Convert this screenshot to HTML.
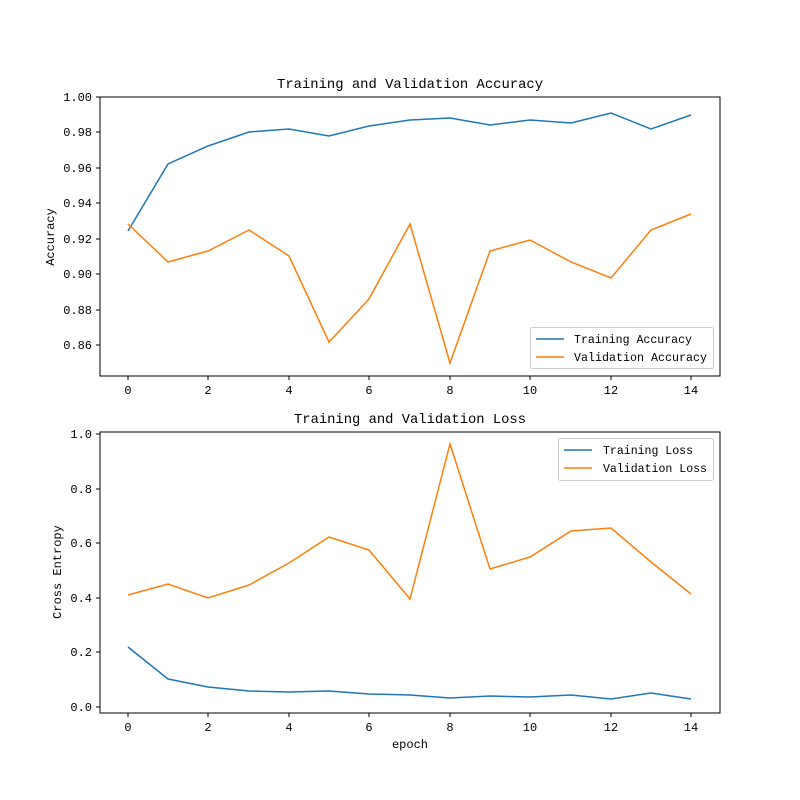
<!DOCTYPE html>
<html><head><meta charset="utf-8"><style>body{margin:0;background:#fff}svg{display:block}text{font-family:"Liberation Mono","WenQuanYi Zen Hei",monospace;fill:#000}</style></head>
<body>
<svg width="800" height="800" viewBox="0 0 800 800" xmlns="http://www.w3.org/2000/svg">
<rect width="800" height="800" fill="#fff"/>
<!-- TOP -->
<text x="410" y="88" font-size="14" text-anchor="middle" textLength="266" lengthAdjust="spacingAndGlyphs">Training and Validation Accuracy</text>
<g stroke="#000" stroke-width="1">
<line x1="128" y1="376" x2="128" y2="380"/><line x1="208" y1="376" x2="208" y2="380"/><line x1="289" y1="376" x2="289" y2="380"/><line x1="369" y1="376" x2="369" y2="380"/><line x1="450" y1="376" x2="450" y2="380"/><line x1="530" y1="376" x2="530" y2="380"/><line x1="611" y1="376" x2="611" y2="380"/><line x1="691" y1="376" x2="691" y2="380"/>
<line x1="96" y1="97" x2="100" y2="97"/><line x1="96" y1="132" x2="100" y2="132"/><line x1="96" y1="168" x2="100" y2="168"/><line x1="96" y1="203" x2="100" y2="203"/><line x1="96" y1="239" x2="100" y2="239"/><line x1="96" y1="274" x2="100" y2="274"/><line x1="96" y1="310" x2="100" y2="310"/><line x1="96" y1="345" x2="100" y2="345"/>
</g>
<g font-size="12" text-anchor="middle">
<text x="128" y="394">0</text><text x="208" y="394">2</text><text x="289" y="394">4</text><text x="369" y="394">6</text><text x="450" y="394">8</text><text x="530" y="394">10</text><text x="611" y="394">12</text><text x="691" y="394">14</text>
</g>
<g font-size="12" text-anchor="end">
<text x="92" y="101">1.00</text><text x="92" y="136">0.98</text><text x="92" y="172">0.96</text><text x="92" y="207">0.94</text><text x="92" y="243">0.92</text><text x="92" y="278">0.90</text><text x="92" y="314">0.88</text><text x="92" y="349">0.86</text>
</g>
<text transform="translate(54,237) rotate(-90)" font-size="12" text-anchor="middle">Accuracy</text>
<polyline fill="none" stroke="#1f77b4" stroke-width="1.5" points="128,231 168,164 208,146 249,132 289,129 329,136 369,126 410,120 450,118 490,125 530,120 571,123 611,113 651,129 691,115"/>
<polyline fill="none" stroke="#ff7f0e" stroke-width="1.5" points="128,224 168,262 208,251 249,230 289,256 329,342 369,299 410,224 450,363 490,251 530,240 571,262 611,278 651,230 691,214"/>
<rect x="100" y="97" width="620" height="279" fill="none" stroke="#000"/>
<rect x="530.5" y="327.5" width="183" height="41" rx="2" fill="#fff" fill-opacity="0.8" stroke="#ccc"/>
<line x1="536" y1="339" x2="564" y2="339" stroke="#1f77b4" stroke-width="1.5"/>
<line x1="536" y1="357" x2="564" y2="357" stroke="#ff7f0e" stroke-width="1.5"/>
<text x="574" y="343" font-size="12" textLength="118" lengthAdjust="spacingAndGlyphs">Training Accuracy</text>
<text x="574" y="361" font-size="12" textLength="133" lengthAdjust="spacingAndGlyphs">Validation Accuracy</text>
<!-- BOTTOM -->
<text x="410" y="423" font-size="14" text-anchor="middle" textLength="232" lengthAdjust="spacingAndGlyphs">Training and Validation Loss</text>
<g stroke="#000" stroke-width="1">
<line x1="128" y1="713" x2="128" y2="717"/><line x1="208" y1="713" x2="208" y2="717"/><line x1="289" y1="713" x2="289" y2="717"/><line x1="369" y1="713" x2="369" y2="717"/><line x1="450" y1="713" x2="450" y2="717"/><line x1="530" y1="713" x2="530" y2="717"/><line x1="611" y1="713" x2="611" y2="717"/><line x1="691" y1="713" x2="691" y2="717"/>
<line x1="96" y1="707" x2="100" y2="707"/><line x1="96" y1="652" x2="100" y2="652"/><line x1="96" y1="598" x2="100" y2="598"/><line x1="96" y1="543" x2="100" y2="543"/><line x1="96" y1="489" x2="100" y2="489"/><line x1="96" y1="434" x2="100" y2="434"/>
</g>
<g font-size="12" text-anchor="middle">
<text x="128" y="731">0</text><text x="208" y="731">2</text><text x="289" y="731">4</text><text x="369" y="731">6</text><text x="450" y="731">8</text><text x="530" y="731">10</text><text x="611" y="731">12</text><text x="691" y="731">14</text>
</g>
<g font-size="12" text-anchor="end">
<text x="92" y="711">0.0</text><text x="92" y="656">0.2</text><text x="92" y="602">0.4</text><text x="92" y="547">0.6</text><text x="92" y="493">0.8</text><text x="92" y="438">1.0</text>
</g>
<text transform="translate(61,572) rotate(-90)" font-size="12" text-anchor="middle">Cross Entropy</text>
<text x="410" y="748" font-size="12" text-anchor="middle">epoch</text>
<polyline fill="none" stroke="#1f77b4" stroke-width="1.5" points="128,647 168,679 208,687 249,691 289,692 329,691 369,694 410,695 450,698 490,696 530,697 571,695 611,699 651,693 691,699"/>
<polyline fill="none" stroke="#ff7f0e" stroke-width="1.5" points="128,595 168,584 208,598 249,585 289,563 329,537 369,550 410,599 450,444 490,569 530,557 571,531 611,528 651,562 691,594"/>
<rect x="100" y="432" width="620" height="281" fill="none" stroke="#000"/>
<rect x="558.5" y="438.5" width="155" height="42" rx="2" fill="#fff" fill-opacity="0.8" stroke="#ccc"/>
<line x1="564" y1="450" x2="592" y2="450" stroke="#1f77b4" stroke-width="1.5"/>
<line x1="564" y1="468" x2="592" y2="468" stroke="#ff7f0e" stroke-width="1.5"/>
<text x="603" y="454" font-size="12" textLength="90" lengthAdjust="spacingAndGlyphs">Training Loss</text>
<text x="603" y="472" font-size="12" textLength="104" lengthAdjust="spacingAndGlyphs">Validation Loss</text>
</svg>
</body></html>
